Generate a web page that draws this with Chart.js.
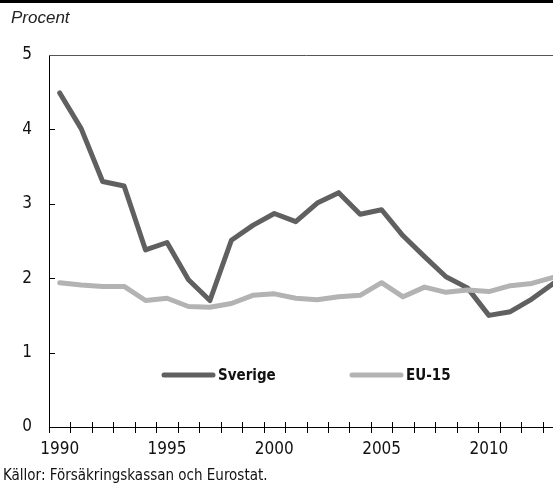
<!DOCTYPE html>
<html>
<head>
<meta charset="utf-8">
<script src="https://cdn.jsdelivr.net/npm/chart.js@4"></script>
<style>
    html, body { margin: 0; padding: 0; background: #fff; overflow: hidden; width: 553px; height: 483px; }
    .topbar { position: absolute; left: 0; top: 0; width: 553px; height: 3px; background: #000; }
    .unit { position: absolute; left: 11px; top: 8px; font: italic 17px 'Liberation Sans', Arial, sans-serif; color: #222; }
    .source { position: absolute; left: 3px; top: 466px; font: 15px 'Liberation Sans Narrow', 'DejaVu Sans Condensed', sans-serif; color: #111; white-space: nowrap; }
    .wrap { position: absolute; left: 0; top: 0; width: 575px; height: 483px; }
</style>
</head>
<body>
<div class="wrap"><canvas id="sickChart"></canvas></div>
<div class="topbar"></div>
<div class="unit">Procent</div>
<div class="source">Källor: Försäkringskassan och Eurostat.</div>

<script>
/* ========================================
   Sjukfrånvaro - Sverige vs EU-15
   ======================================== */

const years = ['1990', '1991', '1992', '1993', '1994', '1995', '1996', '1997', '1998', '1999',
               '2000', '2001', '2002', '2003', '2004', '2005', '2006', '2007', '2008', '2009',
               '2010', '2011', '2012', '2013'];

const sverige = [4.49, 4.01, 3.30, 3.24, 2.38, 2.48, 1.98, 1.70, 2.51, 2.71,
                 2.87, 2.76, 3.01, 3.15, 2.86, 2.92, 2.57, 2.29, 2.02, 1.87,
                 1.50, 1.55, 1.72, 1.93];

const eu15 = [1.94, 1.91, 1.89, 1.89, 1.70, 1.73, 1.62, 1.61, 1.66, 1.77,
              1.79, 1.73, 1.71, 1.75, 1.77, 1.94, 1.75, 1.88, 1.81, 1.84,
              1.82, 1.90, 1.93, 2.01];

const yTicks = [0, 1, 2, 3, 4, 5];
const seriesNames = ['Sverige', 'EU-15'];

const narrow = "'Liberation Sans Narrow', 'DejaVu Sans Condensed', sans-serif";
const darkGrey = '#606060';
const lightGrey = '#b3b3b3';

// frame, tick marks and the in-plot legend
const framePlugin = {
    id: 'frame',
    afterDatasetsDraw(chart) {
        const ctx = chart.ctx;
        const area = chart.chartArea;
        const x = chart.scales.x;
        const y = chart.scales.y;
        ctx.save();

        // top frame line
        ctx.strokeStyle = '#555';
        ctx.lineWidth = 1;
        ctx.beginPath();
        ctx.moveTo(area.left, area.top + 0.5);
        ctx.lineTo(area.right, area.top + 0.5);
        ctx.stroke();

        // x ticks between the years, crossing the axis
        ctx.strokeStyle = '#000';
        ctx.lineWidth = 1;
        for (let i = 0; i <= years.length; i++) {
            const px = Math.round(x.getPixelForValue(i - 0.5)) + 0.5;
            ctx.beginPath();
            ctx.moveTo(px, area.bottom - 5);
            ctx.lineTo(px, area.bottom + 6);
            ctx.stroke();
        }

        // y ticks pointing inwards
        yTicks.slice(1, -1).forEach(v => {
            const py = Math.round(y.getPixelForValue(v)) + 0.5;
            ctx.beginPath();
            ctx.moveTo(area.left, py);
            ctx.lineTo(area.left + 6, py);
            ctx.stroke();
        });

        // legend
        const ly = area.bottom - 52;
        const items = [
            { name: seriesNames[0], color: darkGrey, x0: area.left + 113 },
            { name: seriesNames[1], color: lightGrey, x0: area.left + 301 }
        ];
        ctx.lineCap = 'round';
        ctx.font = 'bold 15px ' + narrow;
        ctx.textBaseline = 'middle';
        ctx.fillStyle = '#111';
        items.forEach(it => {
            ctx.strokeStyle = it.color;
            ctx.lineWidth = 5;
            ctx.beginPath();
            ctx.moveTo(it.x0 + 2, ly);
            ctx.lineTo(it.x0 + 51, ly);
            ctx.stroke();
            ctx.fillText(it.name, it.x0 + 56, ly + 1);
        });

        ctx.restore();
    }
};

new Chart(document.getElementById('sickChart'), {
    type: 'line',
    data: {
        labels: years,
        datasets: [
            {
                label: seriesNames[1],
                data: eu15,
                borderColor: lightGrey,
                borderWidth: 5,
                pointRadius: 0,
                tension: 0,
                borderJoinStyle: 'round',
                borderCapStyle: 'round'
            },
            {
                label: seriesNames[0],
                data: sverige,
                borderColor: darkGrey,
                borderWidth: 5,
                pointRadius: 0,
                tension: 0,
                borderJoinStyle: 'round',
                borderCapStyle: 'round'
            }
        ]
    },
    options: {
        responsive: true,
        maintainAspectRatio: false,
        animation: false,
        layout: {
            padding: { top: 55, left: 0, right: 11, bottom: 11 }
        },
        plugins: {
            legend: { display: false },
            tooltip: { enabled: false }
        },
        scales: {
            x: {
                offset: true,
                grid: { display: false, drawTicks: false },
                border: { color: '#000', width: 1 },
                afterFit: function(scale) { scale.height = 45; },
                ticks: {
                    autoSkip: false,
                    maxRotation: 0,
                    padding: 12,
                    color: '#111',
                    font: { family: narrow, size: 17 },
                    callback: function(value) {
                        const yr = Number(years[value]);
                        return yr % 5 === 0 ? String(yr) : '';
                    }
                }
            },
            y: {
                min: 0,
                max: 5,
                grid: { display: false, drawTicks: false },
                border: { color: '#000', width: 1 },
                afterFit: function(scale) { scale.width = 49; },
                afterBuildTicks: function(scale) {
                    scale.ticks = yTicks.map(v => ({ value: v }));
                },
                ticks: {
                    padding: 17,
                    color: '#111',
                    font: { family: narrow, size: 17 }
                }
            }
        }
    },
    plugins: [framePlugin]
});
</script>
</body>
</html>
